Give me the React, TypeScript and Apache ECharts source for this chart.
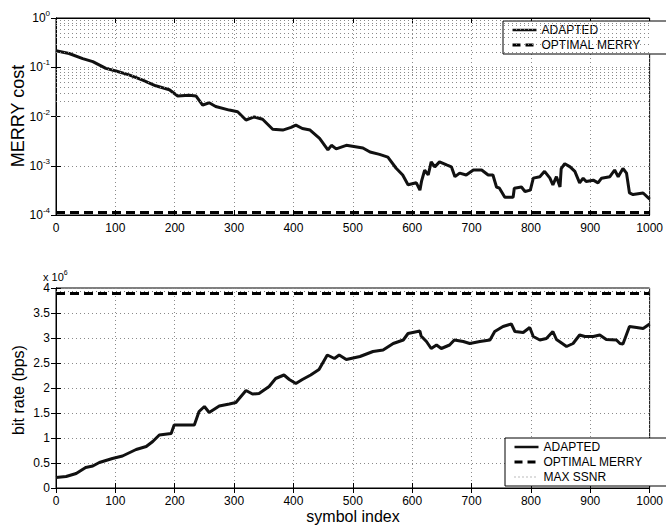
import React, { useEffect, useRef } from "react";
import * as echarts from "echarts";

// ---- Data ----
// Top panel: MERRY cost (log scale)
const costIndex = [0, 22, 45, 62, 84, 101, 123, 146, 168, 191, 205, 224, 236, 247, 258, 269, 292, 306, 320, 334, 348, 365, 382, 396, 404, 415, 428, 444, 458, 464, 472, 489, 517, 529, 545, 559, 573, 584, 593, 607, 613, 616, 621, 627, 632, 638, 646, 658, 666, 672, 680, 691, 703, 717, 728, 736, 742, 747, 756, 770, 772, 784, 790, 799, 804, 815, 823, 832, 837, 843, 849, 851, 857, 866, 874, 882, 888, 893, 905, 913, 919, 933, 941, 947, 955, 961, 966, 972, 989, 1000];
const costValues = [0.217, 0.19, 0.15, 0.13, 0.095, 0.084, 0.07, 0.055, 0.042, 0.035, 0.026, 0.027, 0.026, 0.017, 0.019, 0.016, 0.0135, 0.0125, 0.0085, 0.0098, 0.0088, 0.0055, 0.0053, 0.006, 0.0067, 0.0057, 0.0053, 0.0036, 0.0021, 0.0026, 0.0022, 0.0026, 0.0023, 0.0019, 0.0017, 0.0015, 0.00089, 0.00065, 0.00041, 0.00045, 0.00032, 0.0005, 0.00081, 0.00065, 0.0012, 0.00095, 0.0012, 0.00104, 0.00095, 0.0006, 0.00071, 0.00065, 0.00082, 0.00082, 0.00065, 0.00065, 0.00037, 0.00035, 0.00023, 0.00023, 0.00035, 0.00037, 0.0003, 0.00032, 0.00056, 0.0006, 0.00077, 0.00056, 0.00041, 0.0006, 0.00037, 0.00087, 0.0011, 0.00095, 0.00077, 0.00045, 0.00056, 0.00048, 0.00051, 0.00045, 0.00056, 0.0006, 0.00082, 0.0006, 0.00088, 0.00071, 0.00028, 0.00026, 0.00028, 0.00021];
const optimalMerryCost = 1.12e-4;

// Bottom panel: bit rate, in units of 10^6 bps
const rateIndex = [0, 17, 34, 50, 62, 73, 95, 112, 135, 152, 163, 174, 194, 199, 233, 241, 250, 258, 275, 292, 303, 320, 331, 342, 359, 370, 384, 393, 404, 415, 429, 443, 457, 469, 477, 489, 512, 534, 551, 568, 585, 593, 613, 615, 624, 632, 641, 649, 663, 671, 686, 697, 714, 731, 739, 753, 767, 773, 787, 798, 804, 815, 826, 837, 843, 848, 860, 871, 882, 891, 905, 916, 927, 944, 950, 955, 966, 978, 989, 1000];
const rateValues = [0.21, 0.23, 0.29, 0.41, 0.44, 0.51, 0.59, 0.64, 0.77, 0.83, 0.93, 1.06, 1.09, 1.26, 1.26, 1.53, 1.63, 1.51, 1.64, 1.68, 1.71, 1.95, 1.88, 1.89, 2.03, 2.19, 2.26, 2.17, 2.09, 2.17, 2.26, 2.37, 2.66, 2.59, 2.66, 2.57, 2.63, 2.73, 2.76, 2.89, 2.96, 3.09, 3.14, 3.04, 2.93, 2.79, 2.86, 2.79, 2.86, 2.96, 2.93, 2.89, 2.93, 2.96, 3.13, 3.23, 3.28, 3.13, 3.11, 3.21, 3.03, 2.96, 2.99, 3.13, 2.97, 2.93, 2.83, 2.89, 3.06, 3.03, 3.03, 3.06, 2.97, 2.96, 2.89, 2.88, 3.23, 3.21, 3.19, 3.28];
const optimalMerryRate = 3.89;
const maxSsnrRate = 3.93;

const xMin = 0;
const xMax = 1000;
const xInterval = 100;
const rateTickInterval = 0.5;
const topLegendNames = ["ADAPTED", "OPTIMAL MERRY"];
const bottomLegendNames = ["ADAPTED", "OPTIMAL MERRY", "MAX SSNR"];

const FONT = "'Liberation Sans', Arial, Helvetica, sans-serif";
const GRID_COLOR = "#8a8a8a";

function zip(xs: number[], ys: number[]) {
  return xs.map((x, i) => [x, ys[i]]);
}

export default function App() {
  const ref = useRef<HTMLDivElement>(null);

  useEffect(() => {
    if (!ref.current) return;
    const chart = echarts.init(ref.current, undefined, { renderer: "svg" });

    // minor log grid lines (2..9 of each decade)
    const minorLog: any[] = [];
    for (let e = -4; e < 0; e++) {
      for (let m = 2; m <= 9; m++) {
        minorLog.push({ yAxis: m * Math.pow(10, e) });
      }
    }

    const dotted = { color: GRID_COLOR, width: 1, type: [1, 3] as any };

    const baseX = (gridIndex: number, position: "bottom" | "top", labels: boolean) => ({
      type: "value",
      gridIndex,
      position,
      min: xMin,
      max: xMax,
      interval: xInterval,
      axisLine: { show: true, lineStyle: { color: "#000", width: 1 } },
      axisTick: { show: true, inside: true, length: 5, lineStyle: { color: "#000" } },
      axisLabel: {
        show: labels,
        color: "#000",
        fontFamily: FONT,
        fontSize: 12,
        margin: 7,
        formatter: (v: number) => String(v),
      },
      splitLine: { show: labels, lineStyle: dotted },
    });

    const logY = (position: "left" | "right", labels: boolean) => ({
      type: "log",
      gridIndex: 0,
      position,
      logBase: 10,
      min: 1e-4,
      max: 1,
      axisLine: { show: true, lineStyle: { color: "#000", width: 1 } },
      axisTick: { show: true, inside: true, length: 5, lineStyle: { color: "#000" } },
      axisLabel: {
        show: labels,
        margin: 6,
        formatter: (v: number) => `{b|10}{s|${Math.round(Math.log10(v))}}`,
        rich: {
          b: { fontFamily: FONT, fontSize: 12, color: "#000" },
          s: { fontFamily: FONT, fontSize: 8, color: "#000", padding: [0, 0, 9, 0] },
        },
      },
      splitLine: { show: labels, lineStyle: dotted },
    });

    const rateY = (position: "left" | "right", labels: boolean) => ({
      type: "value",
      gridIndex: 1,
      position,
      min: 0,
      max: 4,
      interval: rateTickInterval,
      axisLine: { show: true, lineStyle: { color: "#000", width: 1 } },
      axisTick: { show: true, inside: true, length: 5, lineStyle: { color: "#000" } },
      axisLabel: {
        show: labels,
        color: "#000",
        fontFamily: FONT,
        fontSize: 12,
        margin: 6,
      },
      splitLine: { show: labels, lineStyle: dotted },
    });

    const solid = { color: "#111", width: 3, type: "solid" as any };
    const dashed = { color: "#000", width: 3, type: [9, 5] as any };
    const dots = { color: "#777", width: 1.2, type: [1, 3] as any };

    const legendItem = (name: string) => {
      const ls =
        name === "ADAPTED"
          ? { color: "#111", width: 2.5, type: "solid" }
          : name === "OPTIMAL MERRY"
          ? { color: "#000", width: 3, type: [8, 5] }
          : { color: "#777", width: 1.2, type: [1, 3] };
      return { name, lineStyle: ls, itemStyle: { opacity: 0 } };
    };

    const legendCommon = {
      orient: "vertical",
      itemWidth: 24,
      itemHeight: 10,
      itemGap: 3,
      padding: [3, 42, 3, 8],
      backgroundColor: "#fff",
      borderColor: "#000",
      borderWidth: 1,
      borderRadius: 0,
      textStyle: { fontFamily: FONT, fontSize: 12, color: "#000" },
      selectedMode: false,
      itemStyle: { opacity: 0 },
    };

    chart.setOption({
      animation: false,
      backgroundColor: "#fff",
      grid: [
        { left: 56, top: 18, width: 594, height: 197, show: true, borderColor: "#000", borderWidth: 1 },
        { left: 56, top: 288, width: 594, height: 200, show: true, borderColor: "#000", borderWidth: 1 },
      ],
      xAxis: [
        baseX(0, "bottom", true),
        baseX(0, "top", false),
        baseX(1, "bottom", true),
        baseX(1, "top", false),
      ],
      yAxis: [logY("left", true), logY("right", false), rateY("left", true), rateY("right", false)],
      legend: [
        {
          ...legendCommon,
          data: topLegendNames.map(legendItem),
          left: 503,
          top: 21,
        },
        {
          ...legendCommon,
          data: bottomLegendNames.map(legendItem),
          left: 505,
          top: 438,
        },
      ],
      graphic: [
        {
          type: "text",
          x: 18,
          y: 116,
          rotation: Math.PI / 2,
          style: {
            text: "MERRY cost",
            font: `18px ${FONT}`,
            fill: "#000",
            align: "center",
            verticalAlign: "middle",
          },
        },
        {
          type: "text",
          x: 18,
          y: 390,
          rotation: Math.PI / 2,
          style: {
            text: "bit rate (bps)",
            font: `16px ${FONT}`,
            fill: "#000",
            align: "center",
            verticalAlign: "middle",
          },
        },
        {
          type: "text",
          x: 353,
          y: 516,
          style: {
            text: "symbol index",
            font: `16px ${FONT}`,
            fill: "#000",
            align: "center",
            verticalAlign: "middle",
          },
        },
        {
          type: "text",
          x: 43,
          y: 284,
          style: {
            text: "{a|x 10}{s|6}",
            rich: {
              a: { fontFamily: FONT, fontSize: 11, fill: "#000" },
              s: { fontFamily: FONT, fontSize: 7, fill: "#000", padding: [0, 0, 8, 0] },
            },
            verticalAlign: "bottom",
          },
        },
      ],
      series: [
        {
          name: "__minorgrid",
          type: "line",
          xAxisIndex: 0,
          yAxisIndex: 0,
          data: [],
          silent: true,
          z: 0,
          markLine: {
            silent: true,
            symbol: "none",
            label: { show: false },
            lineStyle: dotted,
            data: minorLog,
          },
        },
        {
          name: "ADAPTED",
          type: "line",
          xAxisIndex: 0,
          yAxisIndex: 0,
          data: zip(costIndex, costValues),
          symbol: "none",
          lineStyle: solid,
          itemStyle: { color: "#111" },
          z: 3,
        },
        {
          name: "OPTIMAL MERRY",
          type: "line",
          xAxisIndex: 0,
          yAxisIndex: 0,
          data: [
            [xMin, optimalMerryCost],
            [xMax, optimalMerryCost],
          ],
          symbol: "none",
          lineStyle: dashed,
          itemStyle: { color: "#000" },
          z: 3,
        },
        {
          name: "ADAPTED",
          type: "line",
          xAxisIndex: 2,
          yAxisIndex: 2,
          data: zip(rateIndex, rateValues),
          symbol: "none",
          lineStyle: solid,
          itemStyle: { color: "#111" },
          z: 3,
        },
        {
          name: "OPTIMAL MERRY",
          type: "line",
          xAxisIndex: 2,
          yAxisIndex: 2,
          data: [
            [xMin, optimalMerryRate],
            [xMax, optimalMerryRate],
          ],
          symbol: "none",
          lineStyle: dashed,
          itemStyle: { color: "#000" },
          z: 3,
        },
        {
          name: "MAX SSNR",
          type: "line",
          xAxisIndex: 2,
          yAxisIndex: 2,
          data: [
            [xMin, maxSsnrRate],
            [xMax, maxSsnrRate],
          ],
          symbol: "none",
          lineStyle: dots,
          itemStyle: { color: "#777" },
          z: 3,
        },
      ],
    });

    return () => chart.dispose();
  }, []);

  return <div ref={ref} style={{ width: 666, height: 525, position: "absolute", left: 0, top: 0 }} />;
}
